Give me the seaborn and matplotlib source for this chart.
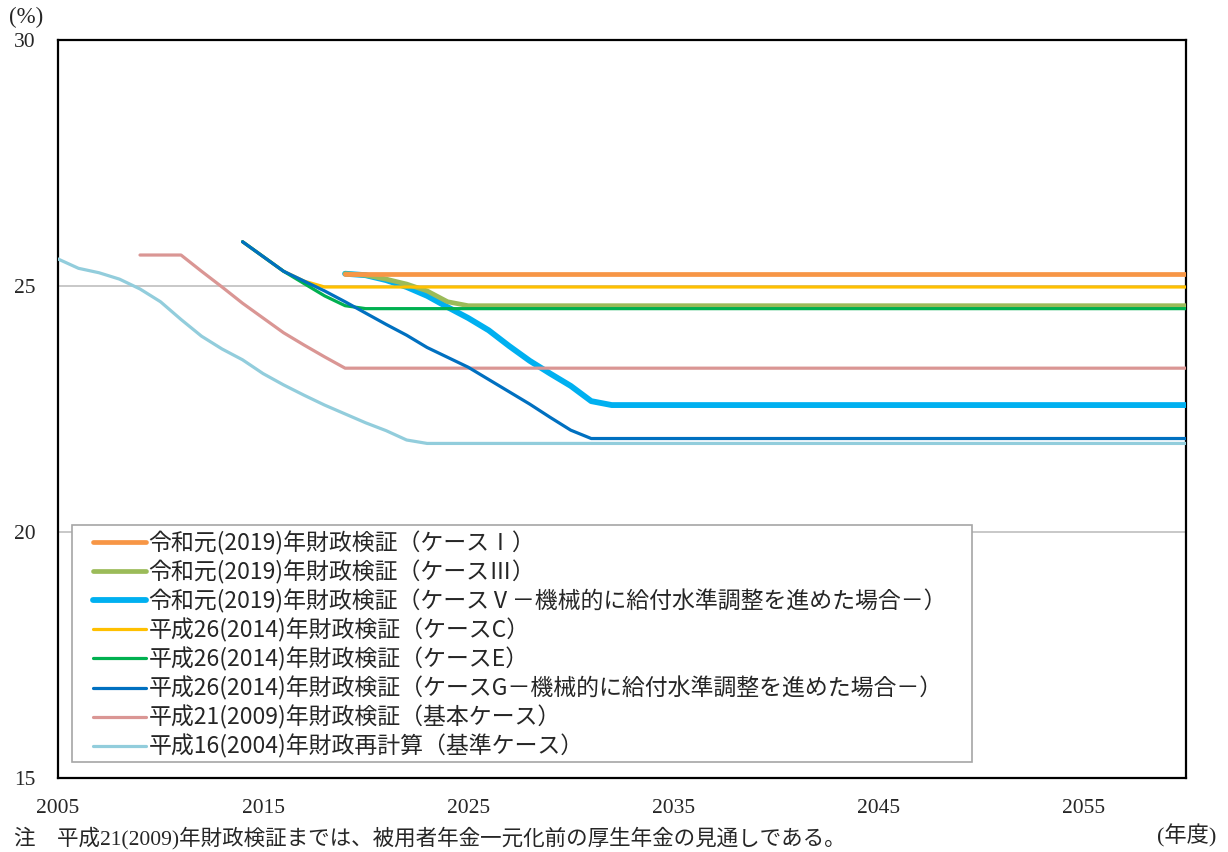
import numpy as np
import pandas as pd
import matplotlib
matplotlib.use("Agg")
import matplotlib.pyplot as plt
from matplotlib.patches import Rectangle
import seaborn as sns

# 厚生年金保険料率の見通し (%)
r1_case1_years = [2019, 2060]
r1_case1_vals = [25.25, 25.25]

r1_case3_years = [2019, 2020, 2021, 2022, 2023, 2024, 2025, 2060]
r1_case3_vals = [25.25, 25.22, 25.14, 25.04, 24.9, 24.68, 24.6, 24.6]

r1_case5_years = [2019, 2020, 2021, 2022, 2023, 2024, 2025, 2026, 2027, 2028,
                  2029, 2030, 2031, 2032, 2060]
r1_case5_vals = [25.25, 25.22, 25.12, 24.98, 24.8, 24.57, 24.35, 24.1, 23.78, 23.48,
                 23.22, 22.97, 22.66, 22.58, 22.58]

h26_caseC_years = [2014, 2015, 2016, 2017, 2018, 2060]
h26_caseC_vals = [25.9, 25.6, 25.3, 25.1, 24.98, 24.98]

h26_caseE_years = [2014, 2015, 2016, 2017, 2018, 2019, 2020, 2060]
h26_caseE_vals = [25.9, 25.6, 25.3, 25.05, 24.8, 24.6, 24.54, 24.54]

h26_caseG_years = [2014, 2015, 2016, 2017, 2018, 2019, 2020, 2021, 2022, 2023,
                   2024, 2025, 2026, 2027, 2028, 2029, 2030, 2031, 2060]
h26_caseG_vals = [25.9, 25.6, 25.3, 25.1, 24.9, 24.68, 24.45, 24.22, 24.0, 23.75,
                  23.55, 23.35, 23.1, 22.85, 22.6, 22.33, 22.07, 21.9, 21.9]

h21_years = [2009, 2011, 2012, 2013, 2014, 2015, 2016, 2017, 2018, 2019, 2060]
h21_vals = [25.63, 25.63, 25.3, 24.98, 24.65, 24.35, 24.05, 23.8, 23.56, 23.33, 23.33]

h16_years = [2005, 2006, 2007, 2008, 2009, 2010, 2011, 2012, 2013, 2014, 2015,
             2016, 2017, 2018, 2019, 2020, 2021, 2022, 2023, 2060]
h16_vals = [25.55, 25.36, 25.27, 25.14, 24.94, 24.68, 24.32, 23.98, 23.72, 23.5, 23.22,
            22.99, 22.78, 22.58, 22.4, 22.22, 22.06, 21.87, 21.8, 21.8]

labels = [
    "令和元(2019)年財政検証（ケースⅠ）",
    "令和元(2019)年財政検証（ケースⅢ）",
    "令和元(2019)年財政検証（ケースⅤ－機械的に給付水準調整を進めた場合－）",
    "平成26(2014)年財政検証（ケースC）",
    "平成26(2014)年財政検証（ケースE）",
    "平成26(2014)年財政検証（ケースG－機械的に給付水準調整を進めた場合－）",
    "平成21(2009)年財政検証（基本ケース）",
    "平成16(2004)年財政再計算（基準ケース）",
]
colors = ["#F79646", "#9BBB59", "#00B0F0", "#FFC000", "#00B050", "#0070C0", "#DA9694", "#92CDDC"]
widths = [3.4, 3.4, 4.2, 2.3, 2.3, 2.3, 2.3, 2.3]
zorders = [6, 5, 3, 7, 8, 9, 4, 4]

series = [
    (r1_case1_years, r1_case1_vals),
    (r1_case3_years, r1_case3_vals),
    (r1_case5_years, r1_case5_vals),
    (h26_caseC_years, h26_caseC_vals),
    (h26_caseE_years, h26_caseE_vals),
    (h26_caseG_years, h26_caseG_vals),
    (h21_years, h21_vals),
    (h16_years, h16_vals),
]

sns.set_style("white")
plt.rcParams['font.family'] = ['Noto Sans CJK JP', 'DejaVu Sans']

fig = plt.figure(figsize=(12.28, 8.52), dpi=100)
ax = fig.add_axes([0.0472, 0.0869, 0.9186, 0.8661])

for (yrs, vals), lab, c, w, z in zip(series, labels, colors, widths, zorders):
    df = pd.DataFrame({"year": yrs, "rate": vals})
    sns.lineplot(data=df, x="year", y="rate", ax=ax, color=c, linewidth=w,
                 label=lab, zorder=z, solid_capstyle="round")

ax.set_xlim(2005, 2060)
ax.set_ylim(15, 30)
ax.set_xticks([2005, 2015, 2025, 2035, 2045, 2055])
ax.set_yticks([15, 20, 25, 30])
ax.set_xlabel("")
ax.set_ylabel("")
ax.yaxis.grid(True, color="#BFBFBF", linewidth=1.2, zorder=1)
ax.set_axisbelow(True)

for s in ax.spines.values():
    s.set_color("black")
    s.set_linewidth(1.6)

serif = ['Liberation Serif', 'Noto Sans CJK JP']
ax.tick_params(axis="x", direction="in", length=6, width=1, pad=15, color="black")
ax.tick_params(axis="y", length=0, pad=16)
for t in ax.get_xticklabels() + ax.get_yticklabels():
    t.set_family(serif)
    t.set_fontsize(15.5)

# legend frame drawn separately so the handles sit inset like the original
frame = Rectangle((0.0124, 0.0217), 0.798, 0.321, transform=ax.transAxes,
                  facecolor="white", edgecolor="#A6A6A6", linewidth=1.2, zorder=19)
ax.add_patch(frame)
leg = ax.legend(loc="lower left", bbox_to_anchor=(0.031, 0.026), fontsize=16.5,
                frameon=False, handlelength=2.3, handletextpad=0.12,
                labelspacing=0.21, borderpad=0, borderaxespad=0)
leg.set_zorder(20)

fig.text(0.021, 0.979, "(%)", family=serif, fontsize=16.5, ha="center", va="center")
fig.text(0.966, 0.019, "(年度)", family=serif, fontsize=16, ha="center", va="center")
fig.text(0.011, 0.003, "注　平成21(2009)年財政検証までは、被用者年金一元化前の厚生年金の見通しである。",
         family=serif, fontsize=15.5, ha="left", va="bottom")

fig.savefig("out.png", dpi=100)
